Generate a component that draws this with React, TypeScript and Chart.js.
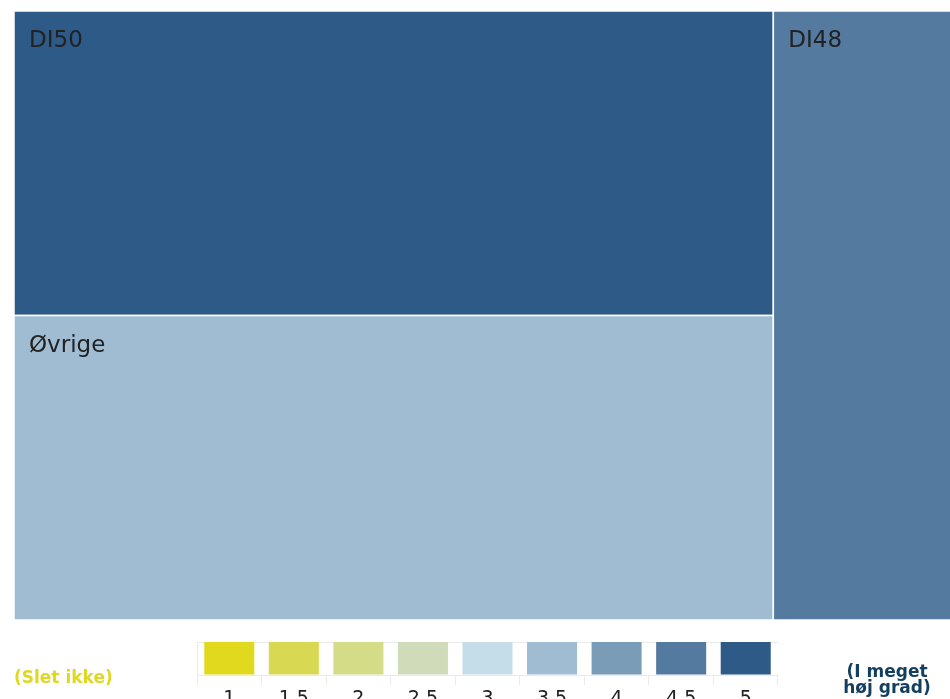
import React, { useEffect, useRef } from 'react';
import { Chart, registerables } from 'chart.js';

Chart.register(...registerables);

// ---- Data ----
const names = ['DI50', 'Øvrige', 'DI48'];
const sizes = [17, 17, 8];
const scores = [5, 3.5, 4.5];

const legendLabels = ['1', '1.5', '2', '2.5', '3', '3.5', '4', '4.5', '5'];
const legendValues = [1, 1.5, 2, 2.5, 3, 3.5, 4, 4.5, 5];
const legendColors = ['#e1d91e', '#d9d853', '#d4dc88', '#cfdbb9', '#c5dde9', '#a0bcd2', '#7a9cb7', '#547a9f', '#2e5a87'];
const lowLabel = '(Slet ikke)';
const highLabel = ['(I meget', 'høj grad)'];

const FONT = '"DejaVu Sans", Verdana, sans-serif';

function colorFor(score: number): string {
  let best = 0;
  for (let i = 0; i < legendValues.length; i++) {
    if (Math.abs(legendValues[i] - score) < Math.abs(legendValues[best] - score)) best = i;
  }
  return legendColors[best];
}

type R = { x0: number; y0: number; x1: number; y1: number };

// squarified layout (golden-ratio variant)
function squarify(values: number[], x0: number, y0: number, x1: number, y1: number): R[] {
  const ratio = (1 + Math.sqrt(5)) / 2;
  const out: R[] = new Array(values.length);
  const n = values.length;
  let i0 = 0;
  let i1 = 0;
  let value = values.reduce((a, b) => a + b, 0);
  while (i0 < n) {
    const dx = x1 - x0;
    const dy = y1 - y0;
    let sumValue = 0;
    do {
      sumValue = values[i1++];
    } while (!sumValue && i1 < n);
    let minValue = sumValue;
    let maxValue = sumValue;
    const alpha = Math.max(dy / dx, dx / dy) / (value * ratio);
    let beta = sumValue * sumValue * alpha;
    let minRatio = Math.max(maxValue / beta, beta / minValue);
    for (; i1 < n; ++i1) {
      const nv = values[i1];
      sumValue += nv;
      if (nv < minValue) minValue = nv;
      if (nv > maxValue) maxValue = nv;
      beta = sumValue * sumValue * alpha;
      const newRatio = Math.max(maxValue / beta, beta / minValue);
      if (newRatio > minRatio) {
        sumValue -= nv;
        break;
      }
      minRatio = newRatio;
    }
    if (dx < dy) {
      const yEnd = value ? y0 + (dy * sumValue) / value : y1;
      let cx = x0;
      for (let k = i0; k < i1; k++) {
        const w = sumValue ? ((x1 - x0) * values[k]) / sumValue : 0;
        out[k] = { x0: cx, y0: y0, x1: cx + w, y1: yEnd };
        cx += w;
      }
      y0 = yEnd;
    } else {
      const xEnd = value ? x0 + (dx * sumValue) / value : x1;
      let cy = y0;
      for (let k = i0; k < i1; k++) {
        const h = sumValue ? ((y1 - y0) * values[k]) / sumValue : 0;
        out[k] = { x0: x0, y0: cy, x1: xEnd, y1: cy + h };
        cy += h;
      }
      x0 = xEnd;
    }
    value -= sumValue;
    i0 = i1;
  }
  return out;
}

const treemapPlugin = {
  id: 'treemapDraw',
  afterDatasetsDraw(chart: any) {
    const { ctx, chartArea, scales } = chart;
    const xs = scales.x;
    const ys = scales.y;
    const aspect = chartArea.width / chartArea.height;
    const rects = squarify(sizes, 0, 0, aspect, 1);
    ctx.save();
    rects.forEach((r, i) => {
      const px0 = xs.getPixelForValue(r.x0 / aspect);
      const px1 = xs.getPixelForValue(r.x1 / aspect);
      const py0 = ys.getPixelForValue(r.y0);
      const py1 = ys.getPixelForValue(r.y1);
      ctx.fillStyle = colorFor(scores[i]);
      ctx.fillRect(px0, py0, px1 - px0, py1 - py0);
      ctx.strokeStyle = '#ffffff';
      ctx.lineWidth = 1.5;
      ctx.strokeRect(px0, py0, px1 - px0, py1 - py0);
    });
    rects.forEach((r, i) => {
      const px0 = xs.getPixelForValue(r.x0 / aspect);
      const py0 = ys.getPixelForValue(r.y0);
      ctx.fillStyle = '#222222';
      ctx.font = `23px ${FONT}`;
      ctx.textAlign = 'left';
      ctx.textBaseline = 'alphabetic';
      ctx.fillText(names[i], px0 + 15, py0 + 36);
    });
    ctx.restore();
  },
};

function Treemap() {
  const ref = useRef<HTMLCanvasElement>(null);
  useEffect(() => {
    if (!ref.current) return;
    const chart = new Chart(ref.current, {
      type: 'scatter',
      data: {
        datasets: [
          {
            label: 'treemap',
            data: names.map((_, i) => ({ x: i, y: sizes[i] })),
            pointRadius: 0,
            showLine: false,
          },
        ],
      },
      options: {
        animation: false,
        responsive: false,
        maintainAspectRatio: false,
        events: [],
        layout: { padding: { left: 14, top: 11, right: 0, bottom: 1 } },
        plugins: { legend: { display: false }, tooltip: { enabled: false } },
        scales: {
          x: { type: 'linear', display: false, min: 0, max: 1 },
          y: { type: 'linear', display: false, min: 0, max: 1, reverse: true },
        },
      },
      plugins: [treemapPlugin],
    } as any);
    return () => chart.destroy();
  }, []);
  return (
    <canvas
      ref={ref}
      width={952}
      height={621}
      style={{ position: 'absolute', left: 0, top: 0, width: 952, height: 621 }}
    />
  );
}

function ColorLegend() {
  const ref = useRef<HTMLCanvasElement>(null);
  useEffect(() => {
    if (!ref.current) return;
    const chart = new Chart(ref.current, {
      type: 'bar',
      data: {
        labels: legendLabels,
        datasets: [
          {
            label: 'skala',
            data: legendValues.map(() => 1),
            backgroundColor: legendColors,
            borderWidth: 0,
            barPercentage: 0.775,
            categoryPercentage: 1,
          },
        ],
      },
      options: {
        animation: false,
        responsive: false,
        maintainAspectRatio: false,
        events: [],
        layout: { padding: { left: 197, top: 10, right: 172, bottom: 7 } },
        plugins: { legend: { display: false }, tooltip: { enabled: false } },
        scales: {
          x: {
            type: 'category',
            grid: {
              offset: true,
              drawOnChartArea: false,
              drawTicks: true,
              tickLength: 10,
              color: '#ebebeb',
            },
            border: { display: true, color: '#ebebeb' },
            ticks: {
              color: '#222222',
              font: { family: FONT, size: 19 },
              padding: 3,
              maxRotation: 0,
            },
            afterFit: (s: any) => {
              s.height = 40;
            },
          },
          y: {
            type: 'linear',
            min: 0,
            max: 1,
            ticks: { display: false, stepSize: 1 },
            grid: { color: '#ebebeb', drawTicks: false },
            border: { display: true, color: '#ebebeb' },
            afterFit: (s: any) => {
              s.width = 0;
            },
          },
        },
      },
    } as any);
    return () => chart.destroy();
  }, []);
  return (
    <canvas
      ref={ref}
      width={950}
      height={90}
      style={{ position: 'absolute', left: 0, top: 632, width: 950, height: 90 }}
    />
  );
}

export default function App() {
  return (
    <div
      style={{
        position: 'fixed',
        left: 0,
        top: 0,
        width: 950,
        height: 699,
        overflow: 'hidden',
        background: '#ffffff',
      }}
    >
      <Treemap />
      <ColorLegend />
      <div
        style={{
          position: 'absolute',
          left: 14,
          top: 668.6,
          fontFamily: FONT,
          fontWeight: 'bold',
          fontSize: 17,
          lineHeight: '16px',
          color: '#e0d820',
          whiteSpace: 'nowrap',
        }}
      >
        {lowLabel}
      </div>
      <div
        style={{
          position: 'absolute',
          left: 827,
          width: 120,
          top: 663,
          fontFamily: FONT,
          fontWeight: 'bold',
          fontSize: 17,
          lineHeight: '16px',
          color: '#123f5f',
          textAlign: 'center',
          whiteSpace: 'nowrap',
        }}
      >
        {highLabel[0]}
        <br />
        {highLabel[1]}
      </div>
    </div>
  );
}
